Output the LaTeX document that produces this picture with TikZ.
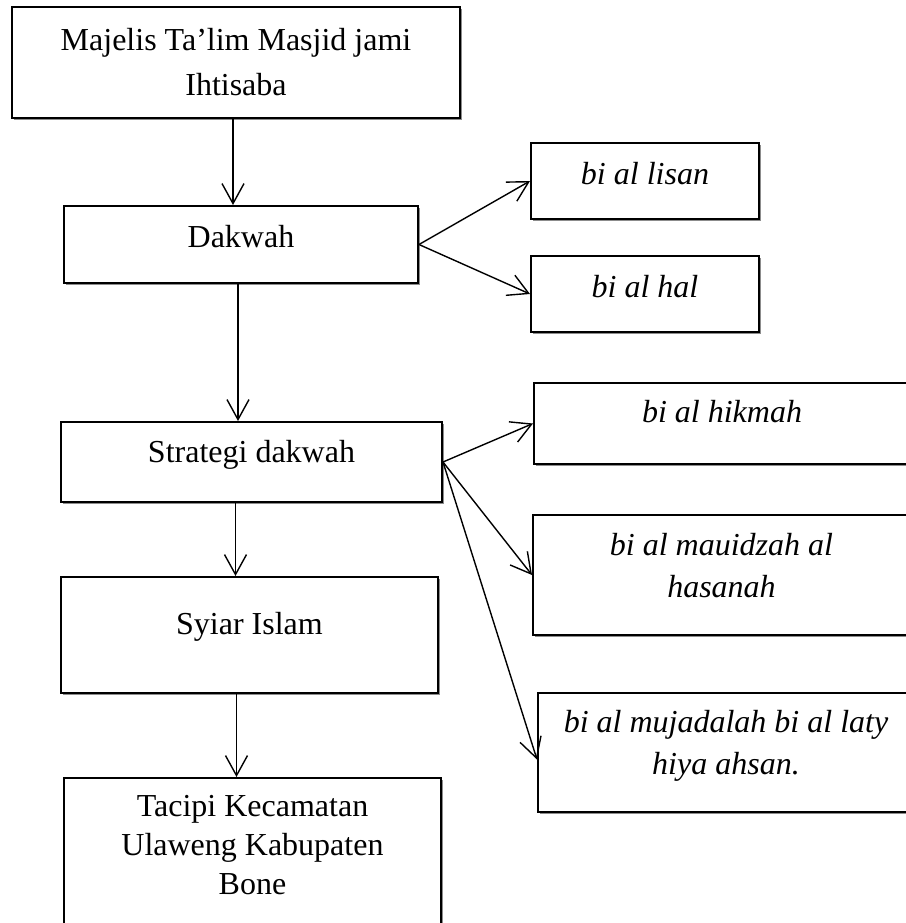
\documentclass[tikz,border=0pt]{standalone}
\usepackage{fontspec}
\setmainfont{Liberation Serif}
\usetikzlibrary{arrows.meta,shadows}

\begin{document}
\begin{tikzpicture}[
    x=0.5pt,y=-0.5pt,
    box/.style={draw,line width=1pt,fill=white,align=center,inner sep=2pt,
      font=\fontsize{16}{21}\selectfont,
      drop shadow={shadow xshift=1.2pt,shadow yshift=-1.2pt,fill=black!45,opacity=1}},
    sidebox/.style={box,font=\fontsize{16}{21}\selectfont\itshape},
    arr/.style={-{Straight Barb[length=10pt,width=11pt]},line width=0.7pt}
  ]
  \clip (0,0) rectangle (906,923);

  % main column
  \node[box,minimum width=224pt,minimum height=55.5pt,font=\fontsize{16}{22.5}\selectfont] (majelis) at (236,62.5) {Majelis Ta’lim Masjid jami\\Ihtisaba};
  \node[box,minimum width=177pt,minimum height=38.5pt,text depth=8.5pt] (dakwah) at (241,244.5) {Dakwah};
  \node[box,minimum width=190.5pt,minimum height=40pt,text depth=11pt] (strategi) at (251.5,462) {Strategi dakwah};
  \node[box,minimum width=188.5pt,minimum height=58pt,text depth=12pt] (syiar) at (249.5,635) {Syiar Islam};
  \node[box,minimum width=188.5pt,minimum height=75pt,text depth=8pt,font=\fontsize{16}{19.5}\selectfont] (tacipi) at (252.5,853) {Tacipi Kecamatan\\Ulaweng Kabupaten\\Bone};

  % side boxes
  \node[sidebox,minimum width=114pt,minimum height=38pt,text depth=8pt] (lisan) at (645,181) {bi al lisan};
  \node[sidebox,minimum width=114pt,minimum height=38pt,text depth=8pt] (hal) at (645,294) {bi al hal};
  \node[sidebox,minimum width=188pt,minimum height=40.5pt,text depth=12pt] (hikmah) at (722,423.5) {bi al hikmah};
  \node[sidebox,minimum width=188.5pt,minimum height=60pt,text depth=10pt] (mauidzah) at (721.5,575) {bi al mauidzah al\\hasanah};
  \node[sidebox,minimum width=188pt,minimum height=59.5pt,text depth=10.5pt] (mujadalah) at (726,752.5) {bi al mujadalah bi al laty\\hiya ahsan.};

  % arrows
  \draw[arr] ([xshift=-1.5pt]majelis.south) -- ([xshift=-1.5pt]majelis.south |- dakwah.north);
  \draw[arr] ([xshift=-1.5pt]dakwah.south) -- ([xshift=-1.5pt]dakwah.south |- strategi.north);
  \draw[arr] ([xshift=-8pt]strategi.south) -- ([xshift=-8pt]strategi.south |- syiar.north);
  \draw[arr] ([xshift=-6.5pt]syiar.south) -- ([xshift=-6.5pt]syiar.south |- tacipi.north);
  \draw[arr] (dakwah.east) -- (lisan.west);
  \draw[arr] (dakwah.east) -- (hal.west);
  \draw[arr] (strategi.east) -- (hikmah.west);
  \draw[arr] (strategi.east) -- (mauidzah.west);
  \draw[arr] (strategi.east) -- ([yshift=-3.5pt]mujadalah.west);
\end{tikzpicture}
\end{document}
